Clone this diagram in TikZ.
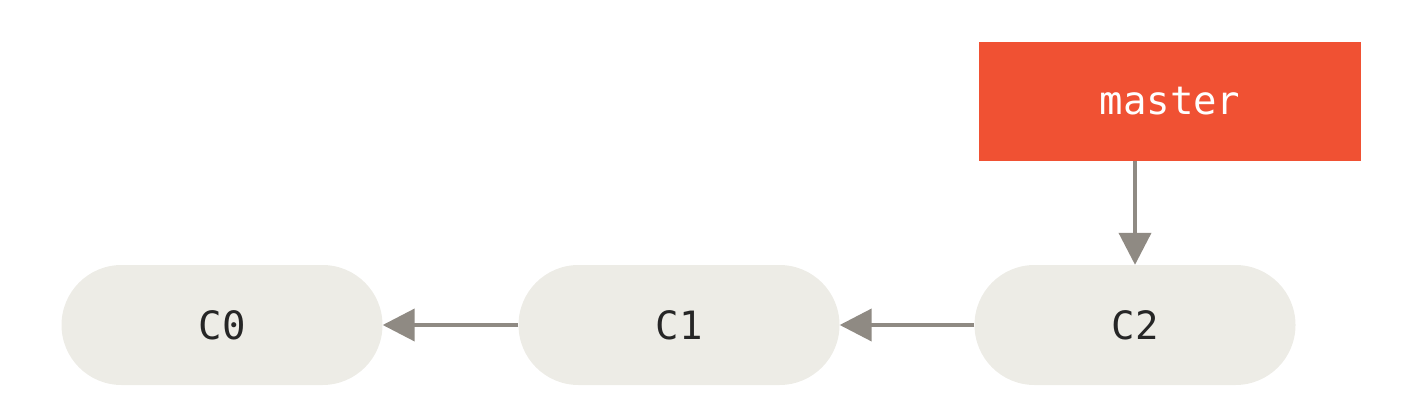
\documentclass[tikz,border=0pt]{standalone}
\usepackage{fontspec}
\setmonofont{DejaVu Sans Mono}
\usetikzlibrary{arrows.meta,shapes.misc}
\definecolor{pillfill}{HTML}{EDECE6}
\definecolor{branchred}{HTML}{F05133}
\definecolor{arrowgray}{HTML}{8F8A83}
\tikzset{
  commit/.style={rounded rectangle, fill=pillfill, minimum width=321pt, minimum height=120pt, inner sep=0pt, font=\ttfamily\fontsize{39}{42}\selectfont, text=black!85},
  branch/.style={rectangle, fill=branchred, minimum width=382pt, minimum height=119pt, inner sep=0pt, font=\ttfamily\fontsize{39}{42}\selectfont, text=white},
  link/.style={draw=arrowgray, line width=4pt, -{Triangle[length=32pt,width=32pt]}, shorten >=0pt}
}
\begin{document}
\begin{tikzpicture}[x=1pt,y=-1pt]
\useasboundingbox (0,0) rectangle (1412,406);
\node[commit] (c0) at (222,325) {C0};
\node[commit] (c1) at (679,325) {C1};
\node[commit] (c2) at (1135,325) {C2};
\node[branch] (master) at (1170,101.5) {master};
\draw[link] (c1.west) -- (c0.east);
\draw[link] (c2.west) -- (c1.east);
\draw[link] (master.south -| c2.north) -- (c2.north);
\end{tikzpicture}
\end{document}
